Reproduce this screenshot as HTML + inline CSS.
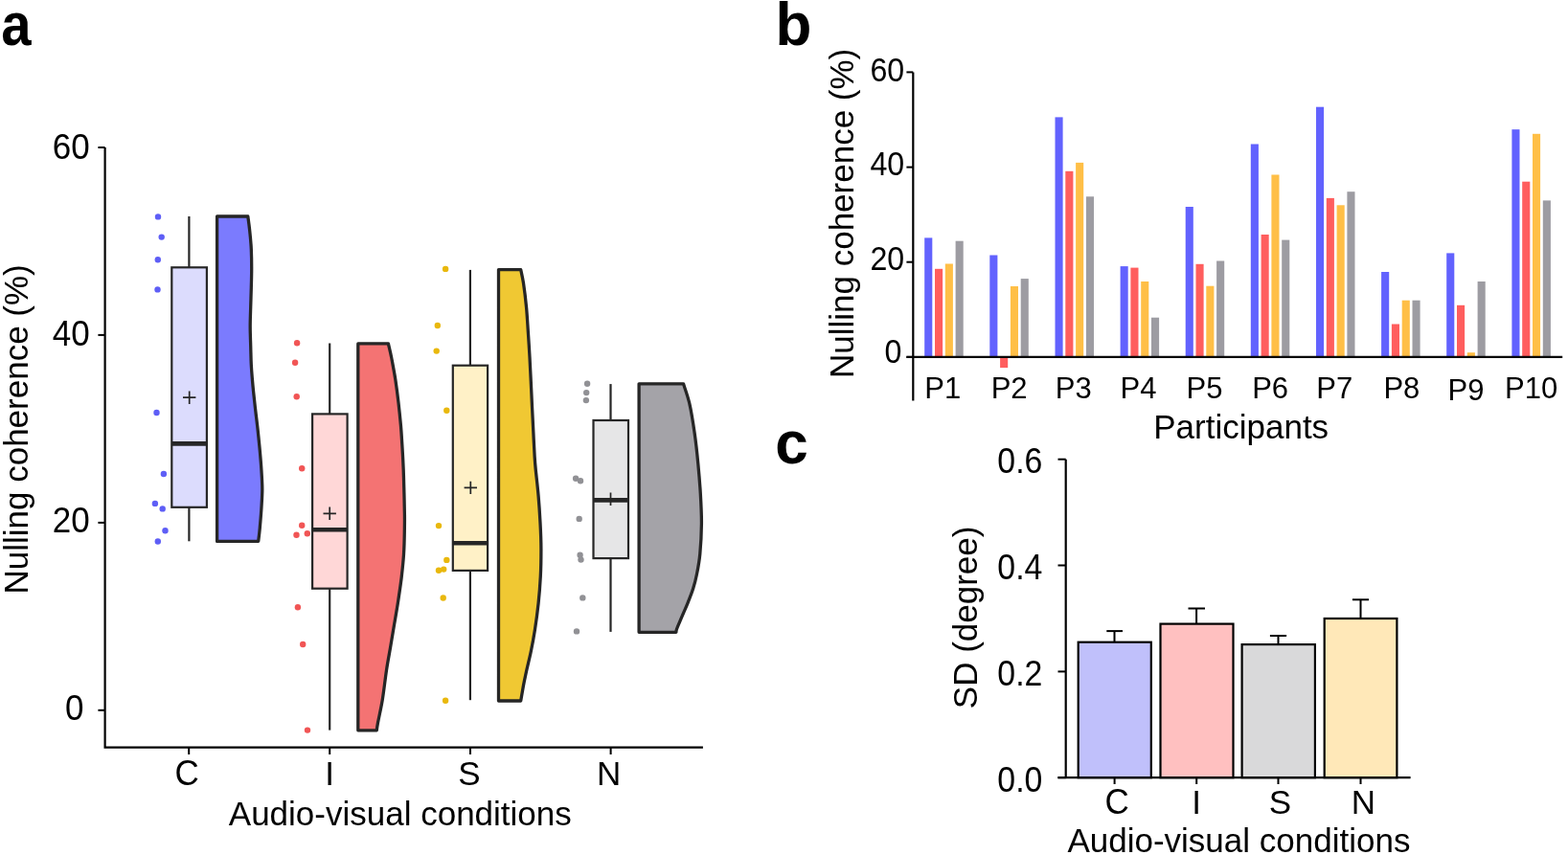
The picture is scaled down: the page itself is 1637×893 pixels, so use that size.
<!DOCTYPE html>
<html><head><meta charset="utf-8"><title>Figure</title>
<style>
html,body{margin:0;padding:0;background:#fff;}
body{width:1637px;height:893px;overflow:hidden;}
svg{display:block;}
.t35{font-family:"Liberation Sans",Arial,sans-serif;font-size:35px;fill:#000;}
.t30{font-family:"Liberation Sans",Arial,sans-serif;font-size:31px;fill:#000;}
.t32{font-family:"Liberation Sans",Arial,sans-serif;font-size:32.2px;fill:#000;}
.lab{font-family:"Liberation Sans",Arial,sans-serif;font-size:62px;font-weight:bold;fill:#000;}
</style></head>
<body>
<svg width="1637" height="893" viewBox="0 0 1637 893">
<rect width="1637" height="893" fill="#fff"/>
<g id="panel-a">
<circle cx="165.0" cy="226.4" r="3.2" fill="#5e5ef6"/>
<circle cx="168.7" cy="247.6" r="3.2" fill="#5e5ef6"/>
<circle cx="164.8" cy="271.2" r="3.2" fill="#5e5ef6"/>
<circle cx="164.5" cy="302.4" r="3.2" fill="#5e5ef6"/>
<circle cx="163.5" cy="431.0" r="3.2" fill="#5e5ef6"/>
<circle cx="170.9" cy="495.0" r="3.2" fill="#5e5ef6"/>
<circle cx="161.9" cy="525.9" r="3.2" fill="#5e5ef6"/>
<circle cx="169.7" cy="531.4" r="3.2" fill="#5e5ef6"/>
<circle cx="172.5" cy="554.2" r="3.2" fill="#5e5ef6"/>
<circle cx="164.8" cy="565.5" r="3.2" fill="#5e5ef6"/>
<circle cx="310.1" cy="358.2" r="3.2" fill="#f15555"/>
<circle cx="308.1" cy="378.8" r="3.2" fill="#f15555"/>
<circle cx="309.7" cy="414.3" r="3.2" fill="#f15555"/>
<circle cx="315.2" cy="489.3" r="3.2" fill="#f15555"/>
<circle cx="315.2" cy="548.7" r="3.2" fill="#f15555"/>
<circle cx="309.5" cy="558.7" r="3.2" fill="#f15555"/>
<circle cx="320.8" cy="557.2" r="3.2" fill="#f15555"/>
<circle cx="310.9" cy="634.2" r="3.2" fill="#f15555"/>
<circle cx="316.2" cy="673.0" r="3.2" fill="#f15555"/>
<circle cx="321.0" cy="762.6" r="3.2" fill="#f15555"/>
<circle cx="465.1" cy="280.9" r="3.2" fill="#e9b80c"/>
<circle cx="456.8" cy="340.0" r="3.2" fill="#e9b80c"/>
<circle cx="455.7" cy="366.6" r="3.2" fill="#e9b80c"/>
<circle cx="466.3" cy="428.7" r="3.2" fill="#e9b80c"/>
<circle cx="458.0" cy="549.1" r="3.2" fill="#e9b80c"/>
<circle cx="466.3" cy="584.9" r="3.2" fill="#e9b80c"/>
<circle cx="458.0" cy="595.8" r="3.2" fill="#e9b80c"/>
<circle cx="463.2" cy="594.6" r="3.2" fill="#e9b80c"/>
<circle cx="462.7" cy="624.5" r="3.2" fill="#e9b80c"/>
<circle cx="465.1" cy="731.8" r="3.2" fill="#e9b80c"/>
<circle cx="613.1" cy="400.8" r="3.2" fill="#919195"/>
<circle cx="612.2" cy="410.1" r="3.2" fill="#919195"/>
<circle cx="611.9" cy="418.1" r="3.2" fill="#919195"/>
<circle cx="601.1" cy="499.7" r="3.2" fill="#919195"/>
<circle cx="606.0" cy="502.3" r="3.2" fill="#919195"/>
<circle cx="604.7" cy="541.9" r="3.2" fill="#919195"/>
<circle cx="605.6" cy="579.8" r="3.2" fill="#919195"/>
<circle cx="606.5" cy="584.6" r="3.2" fill="#919195"/>
<circle cx="608.3" cy="624.4" r="3.2" fill="#919195"/>
<circle cx="602.0" cy="659.4" r="3.2" fill="#919195"/>
<line x1="197.4" y1="226.0" x2="197.4" y2="279.3" stroke="#262626" stroke-width="2.2"/>
<line x1="197.4" y1="529.8" x2="197.4" y2="565.3" stroke="#262626" stroke-width="2.2"/>
<rect x="179.3" y="279.3" width="36.6" height="250.5" fill="#dcdcfd" stroke="#262626" stroke-width="2.2"/>
<line x1="179.3" y1="463.4" x2="215.9" y2="463.4" stroke="#262626" stroke-width="4.6"/>
<path d="M191.0,415.2 H204.39999999999998 M197.7,408.5 V421.9" stroke="#262626" stroke-width="1.7" fill="none"/>
<path d="M226.6,565.4 L226.6,226.0 L258.8,226 C259.1,228.3 260.0,234.3 260.6,240.0 C261.2,245.7 262.0,253.2 262.3,260.0 C262.6,266.8 262.7,273.7 262.7,280.5 C262.7,287.3 262.5,293.9 262.3,300.6 C262.1,307.3 261.9,314.1 261.7,320.8 C261.5,327.5 261.2,334.3 261.2,341.0 C261.2,347.7 261.5,354.3 261.7,361.0 C261.9,367.7 262.0,375.3 262.3,381.0 C262.6,386.7 262.9,390.2 263.3,395.0 C263.7,399.8 264.1,404.2 264.7,410.0 C265.3,415.8 266.1,423.2 266.9,430.0 C267.7,436.8 268.6,443.7 269.3,450.5 C270.0,457.3 270.7,463.9 271.3,470.6 C271.9,477.3 272.5,484.1 272.9,490.8 C273.3,497.5 273.8,504.3 273.8,511.0 C273.8,517.7 273.3,524.3 272.9,531.0 C272.5,537.7 271.8,545.6 271.3,551.3 C270.8,557.0 270.0,563.0 269.7,565.4 Z" fill="#7b7bfe" stroke="#262626" stroke-width="3.3" stroke-linejoin="round"/>
<line x1="344.2" y1="358.5" x2="344.2" y2="432.4" stroke="#262626" stroke-width="2.2"/>
<line x1="344.2" y1="614.7" x2="344.2" y2="762.6" stroke="#262626" stroke-width="2.2"/>
<rect x="326.1" y="432.4" width="36.5" height="182.3" fill="#ffd7d7" stroke="#262626" stroke-width="2.2"/>
<line x1="326.1" y1="553.2" x2="362.6" y2="553.2" stroke="#262626" stroke-width="4.6"/>
<path d="M337.5,536.3 H350.9 M344.2,529.5999999999999 V543.0" stroke="#262626" stroke-width="1.7" fill="none"/>
<path d="M373.8,762.8 L373.8,358.9 L405.4,358.9 C405.9,361.3 407.4,367.1 408.7,373.5 C409.9,379.9 411.7,389.1 412.9,397.0 C414.1,404.9 415.1,412.8 416.0,420.6 C416.9,428.4 417.7,436.2 418.4,444.0 C419.1,451.8 419.5,459.8 420.0,467.6 C420.5,475.4 420.9,483.1 421.2,491.0 C421.5,498.9 421.7,506.9 421.9,514.7 C422.1,522.5 422.3,531.3 422.4,538.0 C422.5,544.7 422.4,548.2 422.3,555.0 C422.2,561.8 422.0,571.0 421.5,579.0 C421.0,587.0 420.1,595.0 419.2,603.0 C418.2,611.0 417.0,619.0 415.8,627.0 C414.6,635.0 413.2,642.9 411.8,651.0 C410.4,659.1 409.1,667.3 407.7,675.5 C406.3,683.7 404.9,690.7 403.5,700.0 C402.1,709.3 400.7,722.1 399.2,731.3 C397.7,740.4 395.5,749.6 394.5,754.9 C393.5,760.1 393.5,761.5 393.3,762.8 Z" fill="#f47373" stroke="#262626" stroke-width="3.3" stroke-linejoin="round"/>
<line x1="490.9" y1="281.9" x2="490.9" y2="381.7" stroke="#262626" stroke-width="2.2"/>
<line x1="490.9" y1="595.9" x2="490.9" y2="731.2" stroke="#262626" stroke-width="2.2"/>
<rect x="472.8" y="381.7" width="36.3" height="214.2" fill="#fff1c7" stroke="#262626" stroke-width="2.2"/>
<line x1="472.8" y1="567.2" x2="509.1" y2="567.2" stroke="#262626" stroke-width="4.6"/>
<path d="M484.6,509.4 H498.0 M491.3,502.7 V516.1" stroke="#262626" stroke-width="1.7" fill="none"/>
<path d="M520.5,732.0 L520.5,281.6 L543.7,281.6 C544.2,284.0 545.5,289.2 546.5,295.8 C547.5,302.4 548.8,312.9 549.6,321.5 C550.4,330.1 550.8,338.7 551.4,347.3 C552.0,355.9 552.5,364.4 553.0,373.0 C553.5,381.6 553.9,390.2 554.3,398.8 C554.7,407.4 555.1,415.9 555.5,424.5 C555.9,433.1 556.4,441.7 556.8,450.3 C557.2,458.9 557.7,469.4 558.1,476.0 C558.5,482.6 558.5,483.0 559.2,490.0 C559.9,497.0 561.3,508.7 562.1,518.0 C562.9,527.3 563.5,536.7 564.0,546.0 C564.5,555.3 564.9,564.7 564.9,574.0 C564.9,583.3 564.8,592.7 564.3,602.0 C563.8,611.3 563.1,620.7 562.1,630.0 C561.1,639.3 559.7,649.7 558.4,658.0 C557.1,666.3 555.9,672.7 554.4,680.0 C552.9,687.3 550.7,695.7 549.4,701.8 C548.1,707.9 547.3,711.4 546.4,716.4 C545.5,721.4 544.2,729.4 543.7,732.0 Z" fill="#f0c833" stroke="#262626" stroke-width="3.3" stroke-linejoin="round"/>
<line x1="637.5" y1="401.1" x2="637.5" y2="439.0" stroke="#262626" stroke-width="2.2"/>
<line x1="637.5" y1="583.1" x2="637.5" y2="659.9" stroke="#262626" stroke-width="2.2"/>
<rect x="619.5" y="439.0" width="36.5" height="144.1" fill="#e6e6e7" stroke="#262626" stroke-width="2.2"/>
<line x1="619.5" y1="522.4" x2="656.0" y2="522.4" stroke="#262626" stroke-width="4.6"/>
<path d="M630.8,521.2 H644.2 M637.5,514.5 V527.9000000000001" stroke="#262626" stroke-width="1.7" fill="none"/>
<path d="M667.1,660.3 L667.1,400.8 L713.5,400.8 C714.5,404.2 717.8,412.7 719.8,421.4 C721.8,430.1 723.7,442.3 725.2,452.8 C726.7,463.3 727.8,473.8 728.8,484.3 C729.8,494.8 730.7,505.3 731.3,515.7 C731.9,526.2 732.5,536.5 732.4,547.0 C732.3,557.5 731.6,569.7 730.8,578.5 C730.0,587.3 728.6,594.0 727.4,600.0 C726.2,606.0 725.2,609.8 723.7,614.6 C722.2,619.5 720.2,624.2 718.3,629.1 C716.4,634.0 714.0,639.1 712.1,643.7 C710.2,648.3 707.6,654.0 706.6,656.8 C705.6,659.6 706.0,659.7 705.9,660.3 Z" fill="#a4a3a8" stroke="#262626" stroke-width="3.3" stroke-linejoin="round"/>
<path d="M109.6,154 V780.6 H733.9" fill="none" stroke="#000" stroke-width="2.2"/>
<line x1="102.4" y1="741.8" x2="109.6" y2="741.8" stroke="#000" stroke-width="2"/>
<text transform="translate(87.5,751.7) scale(1.0,1.06)" text-anchor="end" class="t35">0</text>
<line x1="102.4" y1="545.9" x2="109.6" y2="545.9" stroke="#000" stroke-width="2"/>
<text transform="translate(93.7,555.8) scale(1.0,1.06)" text-anchor="end" class="t35">20</text>
<line x1="102.4" y1="349.9" x2="109.6" y2="349.9" stroke="#000" stroke-width="2"/>
<text transform="translate(93.7,360.8) scale(1.0,1.06)" text-anchor="end" class="t35">40</text>
<line x1="102.4" y1="154.0" x2="109.6" y2="154.0" stroke="#000" stroke-width="2"/>
<text transform="translate(93.7,166.1) scale(1.0,1.06)" text-anchor="end" class="t35">60</text>
<line x1="197.2" y1="780.6" x2="197.2" y2="788" stroke="#000" stroke-width="2"/>
<text transform="translate(195.2,820.0) scale(1.0,1.06)" text-anchor="middle" class="t35">C</text>
<line x1="344.2" y1="780.6" x2="344.2" y2="788" stroke="#000" stroke-width="2"/>
<text x="344.2" y="820.0" text-anchor="middle" class="t35">I</text>
<line x1="491.0" y1="780.6" x2="491.0" y2="788" stroke="#000" stroke-width="2"/>
<text x="490.0" y="820.0" text-anchor="middle" class="t35">S</text>
<line x1="637.6" y1="780.6" x2="637.6" y2="788" stroke="#000" stroke-width="2"/>
<text x="635.6" y="820.0" text-anchor="middle" class="t35">N</text>
<text x="417.8" y="862" text-anchor="middle" class="t35">Audio-visual conditions</text>
<text transform="translate(28.9,448.4) rotate(-90)" text-anchor="middle" class="t35">Nulling coherence (%)</text>
<text transform="translate(1.3,46.5) scale(0.907,1.03)" class="lab">a</text>
</g>
<g id="panel-b">
<rect x="965.2" y="248.4" width="8.1" height="124.5" fill="#6262fe"/>
<rect x="976.0" y="280.8" width="8.1" height="92.1" fill="#ff5e5e"/>
<rect x="986.8" y="275.5" width="8.1" height="97.4" fill="#ffbf47"/>
<rect x="997.6" y="251.7" width="8.1" height="121.2" fill="#9d9ca2"/>
<text x="984.2" y="416.0" text-anchor="middle" class="t30">P1</text>
<rect x="1033.3" y="266.5" width="8.1" height="106.4" fill="#6262fe"/>
<rect x="1044.1" y="372.9" width="8.1" height="11.2" fill="#ff5e5e"/>
<rect x="1054.9" y="299.0" width="8.1" height="73.9" fill="#ffbf47"/>
<rect x="1065.7" y="291.1" width="8.1" height="81.8" fill="#9d9ca2"/>
<text x="1053.6" y="416.0" text-anchor="middle" class="t30">P2</text>
<rect x="1101.5" y="122.4" width="8.1" height="250.5" fill="#6262fe"/>
<rect x="1112.3" y="178.8" width="8.1" height="194.1" fill="#ff5e5e"/>
<rect x="1123.1" y="169.9" width="8.1" height="203.0" fill="#ffbf47"/>
<rect x="1133.9" y="205.3" width="8.1" height="167.6" fill="#9d9ca2"/>
<text x="1120.7" y="416.0" text-anchor="middle" class="t30">P3</text>
<rect x="1169.6" y="278.1" width="8.1" height="94.8" fill="#6262fe"/>
<rect x="1180.4" y="279.6" width="8.1" height="93.3" fill="#ff5e5e"/>
<rect x="1191.2" y="294.0" width="8.1" height="78.9" fill="#ffbf47"/>
<rect x="1202.0" y="331.7" width="8.1" height="41.2" fill="#9d9ca2"/>
<text x="1188.5" y="416.0" text-anchor="middle" class="t30">P4</text>
<rect x="1237.7" y="216.0" width="8.1" height="156.9" fill="#6262fe"/>
<rect x="1248.5" y="275.8" width="8.1" height="97.1" fill="#ff5e5e"/>
<rect x="1259.3" y="298.7" width="8.1" height="74.2" fill="#ffbf47"/>
<rect x="1270.1" y="272.5" width="8.1" height="100.4" fill="#9d9ca2"/>
<text x="1257.5" y="416.0" text-anchor="middle" class="t30">P5</text>
<rect x="1305.8" y="150.5" width="8.1" height="222.4" fill="#6262fe"/>
<rect x="1316.6" y="245.0" width="8.1" height="127.9" fill="#ff5e5e"/>
<rect x="1327.4" y="182.5" width="8.1" height="190.4" fill="#ffbf47"/>
<rect x="1338.2" y="250.6" width="8.1" height="122.3" fill="#9d9ca2"/>
<text x="1326.1" y="416.0" text-anchor="middle" class="t30">P6</text>
<rect x="1374.0" y="111.7" width="8.1" height="261.2" fill="#6262fe"/>
<rect x="1384.8" y="206.9" width="8.1" height="166.0" fill="#ff5e5e"/>
<rect x="1395.6" y="214.3" width="8.1" height="158.6" fill="#ffbf47"/>
<rect x="1406.4" y="200.2" width="8.1" height="172.7" fill="#9d9ca2"/>
<text x="1393.2" y="416.0" text-anchor="middle" class="t30">P7</text>
<rect x="1442.1" y="284.0" width="8.1" height="88.9" fill="#6262fe"/>
<rect x="1452.9" y="338.5" width="8.1" height="34.4" fill="#ff5e5e"/>
<rect x="1463.7" y="313.7" width="8.1" height="59.2" fill="#ffbf47"/>
<rect x="1474.5" y="313.7" width="8.1" height="59.2" fill="#9d9ca2"/>
<text x="1463.4" y="416.0" text-anchor="middle" class="t30">P8</text>
<rect x="1510.2" y="264.4" width="8.1" height="108.5" fill="#6262fe"/>
<rect x="1521.0" y="318.8" width="8.1" height="54.1" fill="#ff5e5e"/>
<rect x="1531.8" y="368.2" width="8.1" height="4.7" fill="#ffbf47"/>
<rect x="1542.6" y="294.0" width="8.1" height="78.9" fill="#9d9ca2"/>
<text x="1530.5" y="417.8" text-anchor="middle" class="t30">P9</text>
<rect x="1578.4" y="135.2" width="8.1" height="237.7" fill="#6262fe"/>
<rect x="1589.2" y="189.7" width="8.1" height="183.2" fill="#ff5e5e"/>
<rect x="1600.0" y="139.8" width="8.1" height="233.1" fill="#ffbf47"/>
<rect x="1610.8" y="209.4" width="8.1" height="163.5" fill="#9d9ca2"/>
<text x="1598.6" y="416.0" text-anchor="middle" class="t30">P10</text>
<line x1="953.3" y1="75.4" x2="953.3" y2="418.6" stroke="#000" stroke-width="2.2"/>
<line x1="946.4" y1="372.9" x2="1631.2" y2="372.9" stroke="#000" stroke-width="2.2"/>
<line x1="946.4" y1="372.9" x2="953.3" y2="372.9" stroke="#000" stroke-width="2"/>
<text transform="translate(941.3,379.4) scale(1.0,1.071)" text-anchor="end" class="t32">0</text>
<line x1="946.4" y1="273.7" x2="953.3" y2="273.7" stroke="#000" stroke-width="2"/>
<text transform="translate(944.2,281.9) scale(1.0,1.071)" text-anchor="end" class="t32">20</text>
<line x1="946.4" y1="174.6" x2="953.3" y2="174.6" stroke="#000" stroke-width="2"/>
<text transform="translate(944.2,182.6) scale(1.0,1.071)" text-anchor="end" class="t32">40</text>
<line x1="946.4" y1="75.4" x2="953.3" y2="75.4" stroke="#000" stroke-width="2"/>
<text transform="translate(944.2,85.1) scale(1.0,1.071)" text-anchor="end" class="t32">60</text>
<text x="1295.7" y="457.7" text-anchor="middle" class="t35">Participants</text>
<text transform="translate(891.3,222.9) rotate(-90)" text-anchor="middle" class="t35">Nulling coherence (%)</text>
<text transform="translate(809.5,46.7) scale(1.0,1.03)" class="lab">b</text>
</g>
<g id="panel-c">
<line x1="1163.5" y1="659.1" x2="1163.5" y2="670.6" stroke="#000" stroke-width="2"/>
<line x1="1155.3" y1="659.1" x2="1172.0" y2="659.1" stroke="#000" stroke-width="2"/>
<rect x="1125.7" y="670.7" width="76.1" height="141.5" fill="#c0c0fb" stroke="#000" stroke-width="2.2"/>
<line x1="1249.1" y1="635.5" x2="1249.1" y2="651.5" stroke="#000" stroke-width="2"/>
<line x1="1240.5" y1="635.5" x2="1258.0" y2="635.5" stroke="#000" stroke-width="2"/>
<rect x="1211.5" y="651.6" width="76.0" height="160.6" fill="#ffc0c0" stroke="#000" stroke-width="2.2"/>
<line x1="1334.5" y1="664.0" x2="1334.5" y2="673.0" stroke="#000" stroke-width="2"/>
<line x1="1325.9" y1="664.0" x2="1343.1" y2="664.0" stroke="#000" stroke-width="2"/>
<rect x="1296.6" y="673.1" width="76.3" height="139.1" fill="#d9d9da" stroke="#000" stroke-width="2.2"/>
<line x1="1420.5" y1="626.3" x2="1420.5" y2="645.9" stroke="#000" stroke-width="2"/>
<line x1="1411.9" y1="626.3" x2="1429.1" y2="626.3" stroke="#000" stroke-width="2"/>
<rect x="1382.7" y="646.0" width="75.7" height="166.2" fill="#ffe8b8" stroke="#000" stroke-width="2.2"/>
<path d="M1112.7,479.7 V812.2 M1104.4,812.2 H1472.6" fill="none" stroke="#000" stroke-width="2.2"/>
<line x1="1104.5" y1="812.2" x2="1112.7" y2="812.2" stroke="#000" stroke-width="2"/>
<text transform="translate(1088.4,827.2) scale(0.967,1.05)" text-anchor="end" class="t35">0.0</text>
<line x1="1104.5" y1="701.4" x2="1112.7" y2="701.4" stroke="#000" stroke-width="2"/>
<text transform="translate(1088.4,716.1) scale(0.967,1.05)" text-anchor="end" class="t35">0.2</text>
<line x1="1104.5" y1="590.5" x2="1112.7" y2="590.5" stroke="#000" stroke-width="2"/>
<text transform="translate(1088.4,605.0) scale(0.967,1.05)" text-anchor="end" class="t35">0.4</text>
<line x1="1104.5" y1="479.7" x2="1112.7" y2="479.7" stroke="#000" stroke-width="2"/>
<text transform="translate(1088.4,494.2) scale(0.967,1.05)" text-anchor="end" class="t35">0.6</text>
<line x1="1163.6" y1="812.2" x2="1163.6" y2="819" stroke="#000" stroke-width="2"/>
<text transform="translate(1166.2,850.3) scale(1.0,1.07)" text-anchor="middle" class="t35">C</text>
<line x1="1249.2" y1="812.2" x2="1249.2" y2="819" stroke="#000" stroke-width="2"/>
<text x="1249.2" y="850.3" text-anchor="middle" class="t35">I</text>
<line x1="1334.5" y1="812.2" x2="1334.5" y2="819" stroke="#000" stroke-width="2"/>
<text x="1336.5" y="850.3" text-anchor="middle" class="t35">S</text>
<line x1="1420.5" y1="812.2" x2="1420.5" y2="819" stroke="#000" stroke-width="2"/>
<text x="1423.3" y="850.3" text-anchor="middle" class="t35">N</text>
<text x="1293.4" y="890" text-anchor="middle" class="t35">Audio-visual conditions</text>
<text transform="translate(1019.6,644.9) rotate(-90)" text-anchor="middle" class="t35">SD (degree)</text>
<text transform="translate(809.3,484.2) scale(1.0,1.03)" class="lab">c</text>
</g>
</svg>
</body></html>
